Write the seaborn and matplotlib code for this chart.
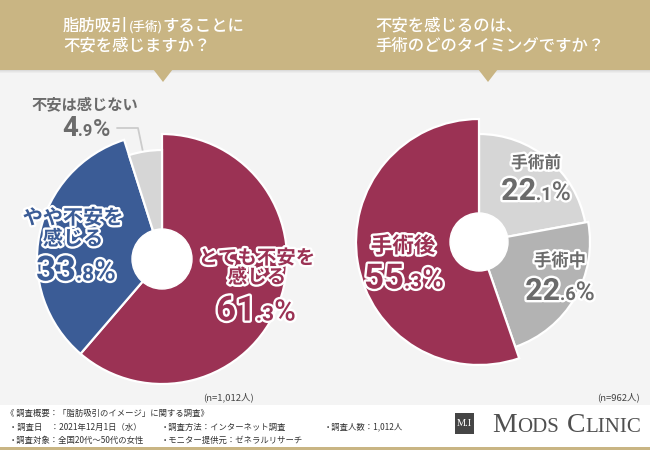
import matplotlib
matplotlib.use("Agg")
import matplotlib.pyplot as plt
import matplotlib.patheffects as pe
from matplotlib.patches import Rectangle, Polygon, Circle
from matplotlib.offsetbox import TextArea, HPacker, AnnotationBbox
import seaborn as sns

sns.set_style("white")
JP = ["Noto Sans CJK JP", "DejaVu Sans"]
NUM = ["Roboto", "DejaVu Sans"]
SERIF = ["Liberation Serif", "DejaVu Serif"]
plt.rcParams["font.family"] = JP

# ---------------- data ----------------
q1_title = ["脂肪吸引", "(手術)", "することに", "不安を感じますか？"]
q1_labels = ["とても不安を\n感じる", "やや不安を\n感じる", "不安は感じない"]
q1_values = [61.3, 33.8, 4.9]
q1_n = "(n=1,012人)"

q2_title = "不安を感じるのは、\n手術のどのタイミングですか？"
q2_labels = ["手術前", "手術中", "手術後"]
q2_values = [22.1, 22.6, 55.3]
q2_n = "(n=962人)"

footer_lines = ["《 調査概要：「脂肪吸引のイメージ」に関する調査》",
                "・調査日　：2021年12月1日（水）",
                "・調査対象：全国20代～50代の女性",
                "・調査方法：インターネット調査",
                "・モニター提供元：ゼネラルリサーチ",
                "・調査人数：1,012人"]

RED = "#9B3254"
BLUE = "#3B5C96"
LGRAY = "#D6D6D6"
MGRAY = "#B3B3B3"
TGRAY = "#6B6B6B"
GOLD = "#C9B583"
BG = "#F4F4F4"

W, H = 650, 450
fig = plt.figure(figsize=(6.5, 4.5), dpi=100)
fig.patch.set_facecolor(BG)

# background axes in image pixel coords (y down)
bg = fig.add_axes([0, 0, 1, 1])
bg.set_xlim(0, W)
bg.set_ylim(H, 0)
bg.axis("off")
bg.add_patch(Rectangle((0, 0), W, H, color=BG, zorder=0))
for i, a in enumerate([0.10, 0.06, 0.03]):
    bg.add_patch(Rectangle((0, 70 + i), W, 1.2, color="black", alpha=a, lw=0, zorder=1))
bg.add_patch(Rectangle((0, 0), W, 70, color=GOLD, lw=0, zorder=2))
for tx in (163, 488):
    bg.add_patch(Polygon([(tx - 10, 69), (tx + 10, 69), (tx, 82)], closed=True,
                         color=GOLD, lw=0, zorder=2))
bg.add_patch(Rectangle((0, 405), W, 45, color="white", lw=0, zorder=1))
bg.add_patch(Rectangle((0, 447), W, 3, color=GOLD, lw=0, zorder=2))
# leader line for small slice
bg.plot([117, 138, 143], [128, 128, 152], color="#CCCCCC", lw=1.3, zorder=3)

# logo
bg.add_patch(Rectangle((455, 413), 19, 21, color="#454545", lw=0, zorder=3))
bg.text(464.5, 424, "M.I", color="white", fontsize=7.5, family=SERIF,
        ha="center", va="center", zorder=4)

# -------------- pies --------------
def pie_axes(cx, cy, size=300):
    ax = fig.add_axes([(cx - size / 2) / W, (H - cy - size / 2) / H, size / W, size / H])
    return ax

def draw_pie(ax, values, colors, radii, hole):
    wedges, _ = ax.pie(values, colors=colors, startangle=90, counterclock=False,
                       wedgeprops=dict(edgecolor="white", linewidth=1.6))
    for w, r in zip(wedges, radii):
        w.set_radius(r)
    ax.add_patch(Circle((0, 0), hole, color="white", zorder=5))
    ax.set_xlim(-150, 150)
    ax.set_ylim(-150, 150)
    ax.set_aspect("equal")
    ax.axis("off")

ax1 = pie_axes(162, 259)
draw_pie(ax1, q1_values, [RED, BLUE, LGRAY], [125, 125, 109], 30)
ax2 = pie_axes(479, 242)
draw_pie(ax2, q2_values, [LGRAY, MGRAY, RED], [108, 111, 123], 29)

# -------------- text helpers --------------
stroke = [pe.withStroke(linewidth=3.4, foreground="white")]

def place_parts(x, y, parts, align=(0.5, 0.5)):
    kids = []
    for s, props in parts:
        kids.append(TextArea(s, textprops=props))
    box = HPacker(children=kids, align="baseline", pad=0, sep=0)
    ab = AnnotationBbox(box, (x, H - y), xycoords="figure pixels", frameon=False,
                        box_alignment=align, pad=0, zorder=10)
    fig.add_artist(ab)

def pct(x, y, value, color, big, outline=True):
    s = f"{value:.1f}"
    ip, dp = s.split(".")
    pe_ = stroke if outline else []
    parts = [(ip, dict(color=color, fontsize=big, family=NUM, weight="bold", path_effects=pe_)),
             ("." + dp, dict(color=color, fontsize=big * 0.6, family=NUM, weight="bold", path_effects=pe_)),
             ("%", dict(color=color, fontsize=big * 0.85, family=NUM, weight="medium", path_effects=pe_))]
    place_parts(x, y, parts)

def label(x, y, s, color, size):
    fig.text(x / W, 1 - y / H, s, color=color, fontsize=size, weight="bold",
             ha="center", va="center", linespacing=1.0, path_effects=stroke, zorder=10)

# banner titles
place_parts(63, 26, [(q1_title[0], dict(color="white", fontsize=11.8, weight="medium")),
                     (q1_title[1], dict(color="white", fontsize=9, weight="medium")),
                     (q1_title[2], dict(color="white", fontsize=11.8, weight="medium"))],
            align=(0, 0.5))
fig.text(63 / W, 1 - 46 / H, q1_title[3], color="white", fontsize=11.8, weight="medium",
         ha="left", va="center")
fig.text(375 / W, 1 - 36 / H, q2_title, color="white", fontsize=11.8, weight="medium",
         ha="left", va="center", linespacing=1.25)

# left pie labels
label(257, 268, q1_labels[0], RED, 14)
pct(256, 311, q1_values[0], RED, 25)
label(73, 228, q1_labels[1], BLUE, 14.5)
pct(76, 271, q1_values[1], BLUE, 25)
fig.text(85 / W, 1 - 104 / H, q1_labels[2], color=TGRAY, fontsize=11, weight="bold",
         ha="center", va="center")
pct(86, 129, q1_values[2], TGRAY, 20, outline=False)

# right pie labels
label(536, 163, q2_labels[0], TGRAY, 12)
pct(536, 191, q2_values[0], TGRAY, 22)
label(560, 261, q2_labels[1], TGRAY, 12.5)
pct(560, 291, q2_values[1], TGRAY, 22)
label(403, 246, q2_labels[2], RED, 15.5)
pct(404, 279, q2_values[2], RED, 25)

# n labels
fig.text(229 / W, 1 - 397 / H, q1_n, color="#444444", fontsize=6.8, ha="center", va="center")
fig.text(619 / W, 1 - 397 / H, q2_n, color="#444444", fontsize=6.8, ha="center", va="center")

# footer
fc = "#333333"
fs = 6.0
fig.text(6 / W, 1 - 413 / H, footer_lines[0], color=fc, fontsize=fs, ha="left", va="center")
fig.text(9 / W, 1 - 427 / H, footer_lines[1], color=fc, fontsize=fs, ha="left", va="center")
fig.text(9 / W, 1 - 440 / H, footer_lines[2], color=fc, fontsize=fs, ha="left", va="center")
fig.text(161 / W, 1 - 427 / H, footer_lines[3], color=fc, fontsize=fs, ha="left", va="center")
fig.text(161 / W, 1 - 440 / H, footer_lines[4], color=fc, fontsize=fs, ha="left", va="center")
fig.text(324 / W, 1 - 427 / H, footer_lines[5], color=fc, fontsize=fs, ha="left", va="center")

lp = dict(color="#505050", family=SERIF)
place_parts(492, 425, [("M", dict(fontsize=20, **lp)), ("ODS", dict(fontsize=15, **lp)),
                       ("  ", dict(fontsize=12, **lp)),
                       ("C", dict(fontsize=20, **lp)), ("LINIC", dict(fontsize=15, **lp))],
            align=(0, 0.5))

fig.savefig("out.png", dpi=100, facecolor=BG)
